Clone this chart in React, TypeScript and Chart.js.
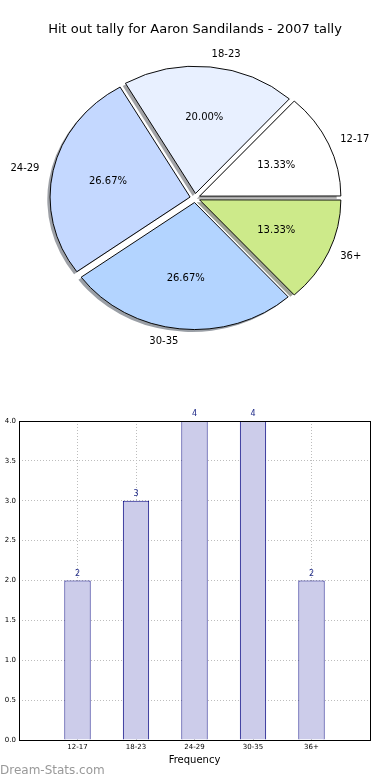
import React, { useEffect, useRef } from "react";
import { Chart, registerables } from "chart.js";

Chart.register(...registerables);

const TITLE = "Hit out tally for Aaron Sandilands - 2007 tally";
const CATEGORIES = ["12-17", "18-23", "24-29", "30-35", "36+"];
const COUNTS = [2, 3, 4, 4, 2];
const SLICE_COLORS = ["#ffffff", "#e8f0ff", "#c4d8ff", "#b3d4ff", "#cdea8a"];
const Y_MIN = 0;
const Y_MAX = 4;
const Y_STEP = 0.5;
const X_TITLE = "Frequency";
const WATERMARK = "Dream-Stats.com";

const FONT = "'DejaVu Sans', 'Liberation Sans', sans-serif";
const PIE_SCALE_Y = 127 / 140;
const PIE_RADIUS = 140;

function shadowOf(hex: string): string {
  const h = hex.replace("#", "");
  const r = parseInt(h.slice(0, 2), 16);
  const g = parseInt(h.slice(2, 4), 16);
  const b = parseInt(h.slice(4, 6), 16);
  return `rgba(${Math.round(r * 0.3)},${Math.round(g * 0.3)},${Math.round(b * 0.3)},0.5)`;
}

export default function App() {
  const pieRef = useRef<HTMLCanvasElement | null>(null);
  const barRef = useRef<HTMLCanvasElement | null>(null);

  useEffect(() => {
    const total = COUNTS.reduce((a, b) => a + b, 0);
    // Chart.js draws clockwise from the start angle; matplotlib counter-clockwise.
    const order = CATEGORIES.map((_, i) => i).reverse();
    const pieLabels = order.map((i) => CATEGORIES[i]);
    const pieData = order.map((i) => COUNTS[i]);
    const pieColors = order.map((i) => SLICE_COLORS[i]);

    const pieDecor = {
      id: "pieDecor",
      beforeDatasetsDraw(chart: any) {
        const ctx = chart.ctx as CanvasRenderingContext2D;
        const arcs = chart.getDatasetMeta(0).data as any[];
        if (!arcs.length) return;
        const cx = arcs[0].x;
        const cy = arcs[0].y;
        // shadows
        ctx.save();
        ctx.translate(-2.8, 2.5);
        ctx.translate(cx, cy);
        ctx.scale(1, PIE_SCALE_Y);
        ctx.translate(-cx, -cy);
        arcs.forEach((a) => {
          const off = (a.options.offset || 0) / 4;
          const mid = (a.startAngle + a.endAngle) / 2;
          const ox = cx + Math.cos(mid) * off;
          const oy = cy + Math.sin(mid) * off;
          ctx.beginPath();
          ctx.moveTo(ox, oy);
          ctx.arc(ox, oy, a.outerRadius, a.startAngle, a.endAngle);
          ctx.closePath();
          ctx.fillStyle = shadowOf(a.options.backgroundColor);
          ctx.fill();
        });
        ctx.restore();
        ctx.save();
        ctx.translate(cx, cy);
        ctx.scale(1, PIE_SCALE_Y);
        ctx.translate(-cx, -cy);
      },
      afterDatasetsDraw(chart: any) {
        const ctx = chart.ctx as CanvasRenderingContext2D;
        ctx.restore();
        const arcs = chart.getDatasetMeta(0).data as any[];
        if (!arcs.length) return;
        const cx = arcs[0].x;
        const cy = arcs[0].y;
        ctx.save();
        ctx.font = `10px ${FONT}`;
        ctx.fillStyle = "#000";
        ctx.textBaseline = "middle";
        arcs.forEach((a, k) => {
          const off = (a.options.offset || 0) / 4;
          const mid = (a.startAngle + a.endAngle) / 2;
          const r1 = a.outerRadius * 0.6 + off;
          const pct = ((pieData[k] / total) * 100).toFixed(2) + "%";
          ctx.textAlign = "center";
          ctx.fillText(pct, cx + Math.cos(mid) * r1, cy + Math.sin(mid) * r1 * PIE_SCALE_Y);
          const r2 = a.outerRadius * 1.1 + off;
          ctx.textAlign = Math.cos(mid) > 0 ? "left" : "right";
          ctx.fillText(pieLabels[k], cx + Math.cos(mid) * r2, cy + Math.sin(mid) * r2 * PIE_SCALE_Y);
        });
        ctx.restore();
      },
      afterDraw(chart: any) {
        const ctx = chart.ctx as CanvasRenderingContext2D;
        ctx.save();
        ctx.font = `13px ${FONT}`;
        ctx.fillStyle = "#000";
        ctx.textAlign = "center";
        ctx.textBaseline = "middle";
        ctx.fillText(TITLE, chart.width / 2, 30);
        ctx.restore();
      },
    };

    const pie = new Chart(pieRef.current as HTMLCanvasElement, {
      type: "pie",
      data: {
        labels: pieLabels,
        datasets: [
          {
            data: pieData,
            backgroundColor: pieColors,
            borderColor: "#000000",
            borderWidth: 1,
            offset: 20,
            hoverOffset: 20,
          },
        ],
      },
      options: {
        animation: false,
        responsive: false,
        events: [],
        rotation: 90,
        radius: PIE_RADIUS,
        layout: { padding: { top: 6 } },
        plugins: { legend: { display: false }, tooltip: { enabled: false }, title: { display: false } },
      } as any,
      plugins: [pieDecor],
    });

    const barDecor = {
      id: "barDecor",
      afterDatasetsDraw(chart: any) {
        const ctx = chart.ctx as CanvasRenderingContext2D;
        const bars = chart.getDatasetMeta(0).data as any[];
        ctx.save();
        ctx.font = `8px ${FONT}`;
        ctx.fillStyle = "#1f2a88";
        ctx.textAlign = "center";
        ctx.textBaseline = "bottom";
        bars.forEach((b, i) => {
          ctx.fillText(String(COUNTS[i]), b.x, b.y - 3);
        });
        ctx.restore();
      },
      afterDraw(chart: any) {
        const ctx = chart.ctx as CanvasRenderingContext2D;
        const a = chart.chartArea;
        ctx.save();
        ctx.strokeStyle = "#000";
        ctx.lineWidth = 1;
        ctx.strokeRect(Math.round(a.left) + 0.5, Math.round(a.top) + 0.5, Math.round(a.right - a.left), Math.round(a.bottom - a.top));
        ctx.restore();
      },
    };

    const bar = new Chart(barRef.current as HTMLCanvasElement, {
      type: "bar",
      data: {
        datasets: [
          {
            data: COUNTS.map((v, i) => ({ x: i, y: v })),
            backgroundColor: "#ccccea",
            borderColor: "#000080",
            borderWidth: 1,
            barPercentage: 0.5,
            categoryPercentage: 0.9,
          },
        ],
      },
      options: {
        animation: false,
        responsive: false,
        events: [],
        layout: { padding: { top: 31, right: 20, left: 0, bottom: 0 } },
        plugins: { legend: { display: false }, tooltip: { enabled: false } },
        scales: {
          x: {
            type: "linear",
            min: -1,
            max: CATEGORIES.length,
            offset: false,
            z: 1,
            afterFit: (s: any) => {
              s.height = 40;
            },
            afterBuildTicks: (s: any) => {
              const t = [];
              for (let v = -1; v <= CATEGORIES.length; v++) t.push({ value: v });
              s.ticks = t;
            },
            ticks: {
              callback: (v: any) => CATEGORIES[v] ?? "",
              font: { family: FONT, size: 7 },
              color: "#000",
              padding: 3,
              autoSkip: false,
              maxRotation: 0,
            },
            grid: { color: "#bdbdbd", lineWidth: 1, drawTicks: false, offset: false },
            border: { display: false, dash: [1, 2] },
            title: {
              display: true,
              text: X_TITLE,
              font: { family: FONT, size: 10 },
              color: "#000",
              padding: { top: 0, bottom: 14 },
            },
          },
          y: {
            type: "linear",
            min: Y_MIN,
            max: Y_MAX,
            z: 1,
            afterFit: (s: any) => {
              s.width = 19;
            },
            ticks: {
              stepSize: Y_STEP,
              callback: (v: any) => Number(v).toFixed(1),
              font: { family: FONT, size: 7 },
              color: "#000",
              padding: 3,
            },
            grid: { color: "#bdbdbd", lineWidth: 1, drawTicks: false },
            border: { display: false, dash: [1, 2] },
          },
        },
      } as any,
      plugins: [barDecor],
    });

    return () => {
      pie.destroy();
      bar.destroy();
    };
  }, []);

  return (
    <div style={{ position: "absolute", left: 0, top: 0, width: 390, height: 780, background: "#fff" }}>
      <canvas
        ref={pieRef}
        width={390}
        height={390}
        style={{ position: "absolute", left: 0, top: 0, width: 390, height: 390 }}
      />
      <canvas
        ref={barRef}
        width={390}
        height={390}
        style={{ position: "absolute", left: 0, top: 390, width: 390, height: 390 }}
      />
      <div
        style={{
          position: "absolute",
          left: 0,
          top: 762,
          fontFamily: FONT,
          fontSize: 12,
          color: "#999999",
          lineHeight: "16px",
          whiteSpace: "nowrap",
        }}
      >
        {WATERMARK}
      </div>
    </div>
  );
}
